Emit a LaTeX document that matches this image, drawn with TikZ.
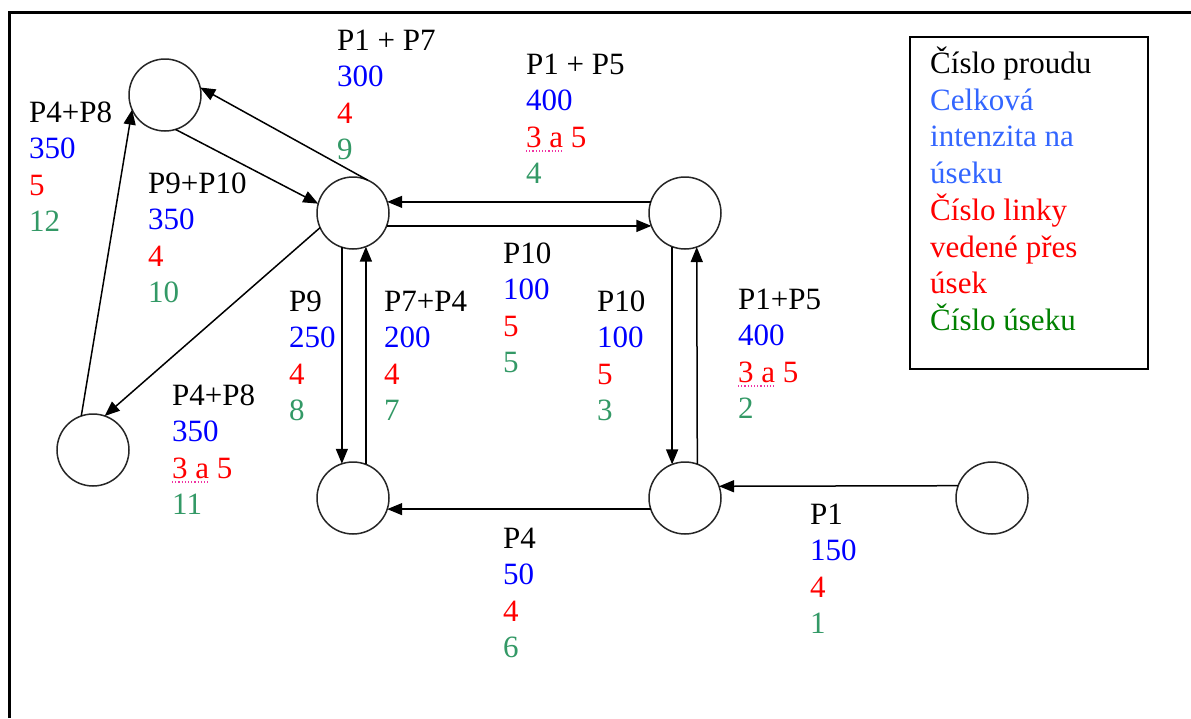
\documentclass[tikz,border=0pt]{standalone}
\usepackage{fontspec}
\setmainfont{Liberation Serif}
\newfontfamily\diagserif{Liberation Serif}
\usetikzlibrary{arrows.meta}
\definecolor{numblue}{HTML}{0000FF}
\definecolor{numred}{HTML}{FF0000}
\definecolor{numgreen}{HTML}{339966}
\definecolor{legblue}{HTML}{3366FF}
\definecolor{leggreen}{HTML}{008000}
\newcommand\labfont{\diagserif\fontsize{31}{36}\selectfont}
\tikzset{
  stn/.style={circle, draw=black!85, line width=1.5pt, minimum size=72pt, inner sep=0pt, outer sep=0pt},
  flow/.style={draw=black, line width=1.5pt, -{Triangle[length=15pt,width=12pt]}},
  lab/.style={anchor=base west, inner sep=0pt, font=\labfont},
  squig/.style={draw=magenta!80, dotted, line width=1.2pt},
  legbox/.style={draw=black, line width=1.5pt, anchor=north west, inner sep=0pt, minimum width=238pt, minimum height=332pt}
}
\newcommand\seglab[7]{%
  \node[lab,text=black] (#1-t) at (#2,#3) {#4};
  \node[lab,text=numblue] (#1-n) at (#2,#3+36.5) {#5};
  \node[lab,text=numred] (#1-l) at (#2,#3+73) {#6};
  \node[lab,text=numgreen] (#1-s) at (#2,#3+109.5) {#7};
}
\begin{document}
\begin{tikzpicture}[x=1pt,y=-1pt]
\fill[white] (0,0) rectangle (1191,718);
\useasboundingbox (0,0) rectangle (1191,718);
\draw[line width=3pt] (9,718) -- (9,12) -- (1191,12);

% stations
\node[stn] (tl) at (165,95) {};
\node[stn] (c) at (353,213) {};
\node[stn] (rt) at (685,213) {};
\node[stn] (bl) at (93,450) {};
\node[stn] (bm) at (353,498) {};
\node[stn] (br) at (685,498) {};
\node[stn] (r1) at (992,498) {};

% connectors
\draw[flow] (r1.160.5) -- (br.19.5);
\draw[flow] (br.70.5) -- (rt.289.5);
\draw[flow] (rt.249) -- (br.111);
\draw[flow] (rt.162) -- (c.18);
\draw[flow] (c.-21) -- (rt.201);
\draw[flow] (br.198) -- (bm.-18);
\draw[flow] (bm.69) -- (c.291);
\draw[flow] (c.252) -- (bm.108);
\draw[flow] (c.66) -- (tl.12);
\draw[flow] (tl.287) -- (c.165);
\draw[flow] (c.204) -- (bl.71);
\draw[flow] (bl.109) -- (tl.204);

% labels
\seglab{s12}{29}{122}{P4+P8}{350}{5}{12}
\seglab{s9}{337}{50}{P1 + P7}{300}{4}{9}
\seglab{s4}{526}{74}{P1 + P5}{400}{3 a 5}{4}
\seglab{s10}{148}{193}{P9+P10}{350}{4}{10}
\seglab{s8}{289}{311}{P9}{250}{4}{8}
\seglab{s7}{384}{311}{P7+P4}{200}{4}{7}
\seglab{s5}{503}{263}{P10}{100}{5}{5}
\seglab{s3}{597}{311}{P10}{100}{5}{3}
\seglab{s2}{738}{309}{P1+P5}{400}{3 a 5}{2}
\seglab{s11}{172}{405}{P4+P8}{350}{3 a 5}{11}
\seglab{s6}{503}{548}{P4}{50}{4}{6}
\seglab{s1}{810}{524}{P1}{150}{4}{1}

\draw[squig] ([yshift=-4pt]s4-l.base west) -- ++(38,0);
\draw[squig] ([yshift=-4pt]s2-l.base west) -- ++(38,0);
\draw[squig] ([yshift=-4pt]s11-l.base west) -- ++(38,0);

% legend
\node[legbox] (leg) at (909,36) {};
\node[lab,text=black] (lg1) at (930,73.5) {Číslo proudu};
\node[lab,text=legblue] (lg2) at (930,110.2) {Celková};
\node[lab,text=legblue] (lg3) at (930,146.9) {intenzita na};
\node[lab,text=legblue] (lg4) at (930,183.6) {úseku};
\node[lab,text=numred] (lg5) at (930,220.3) {Číslo linky};
\node[lab,text=numred] (lg6) at (930,257) {vedené přes};
\node[lab,text=numred] (lg7) at (930,293.7) {úsek};
\node[lab,text=leggreen] (lg8) at (930,330.4) {Číslo úseku};
\end{tikzpicture}
\end{document}
